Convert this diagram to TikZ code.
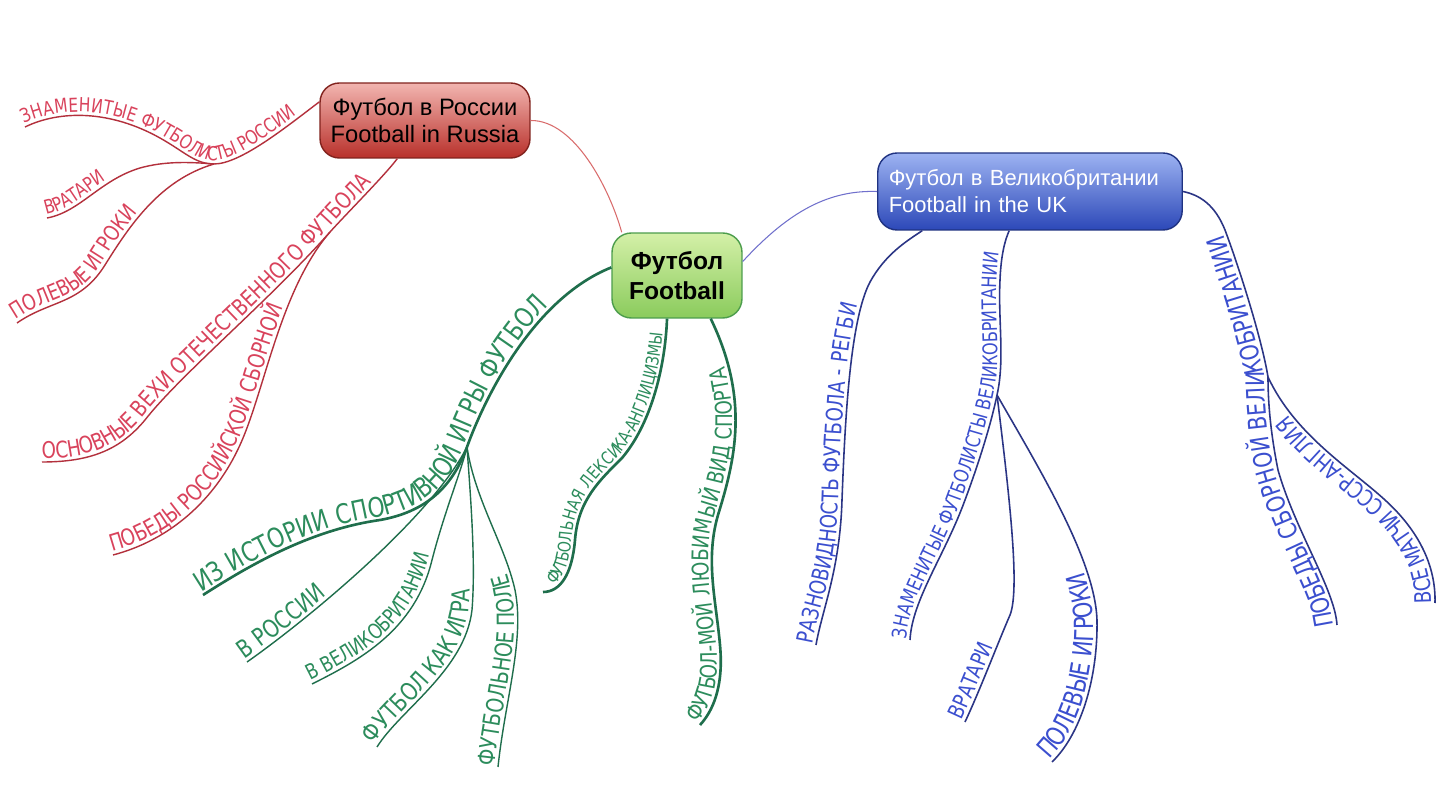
\documentclass[tikz,border=0pt]{standalone}
\usepackage{fontspec}
\setmainfont{Liberation Sans}
\newfontfamily\hand[FakeStretch=0.8]{DejaVu Sans}
\newcommand\hw[1]{\hand\fontsize{#1}{#1}\selectfont}
\usetikzlibrary{decorations.text}

\definecolor{redline}{HTML}{B3303C}
\definecolor{redtext}{HTML}{D9435C}
\definecolor{greenline}{HTML}{1F6E4C}
\definecolor{greentext}{HTML}{2C8C5C}
\definecolor{blueline}{HTML}{2B3585}
\definecolor{bluetext}{HTML}{3B4FCF}
\definecolor{redtop}{HTML}{F2B5B0}
\definecolor{redmid}{HTML}{D9544D}
\definecolor{redbot}{HTML}{B8302A}
\definecolor{greentop}{HTML}{D4F0A8}
\definecolor{greenbot}{HTML}{8ACB5C}
\definecolor{bluetop}{HTML}{9DB3F2}
\definecolor{bluemid}{HTML}{5272DC}
\definecolor{bluebot}{HTML}{2C48B8}

\begin{document}
\begin{tikzpicture}[x=0.02cm, y=-0.02cm,
    hub/.style={rounded corners=11pt, line width=0.8pt, inner sep=0pt, align=center},
    link/.style={line width=0.6pt},
    redbranch/.style={draw=redline, line width=0.8pt},
    greenbranch/.style={draw=greenline, line width=0.8pt},
    greentrunk/.style={draw=greenline, line width=1.5pt},
    bluebranch/.style={draw=blueline, line width=0.9pt},
    lbl/.style n args={3}{postaction={decorate, decoration={text along path,
        raise=2pt, text color=#1, text={|\hw{#2}|#3}}}}]

  \useasboundingbox[fill=white] (0,0) rectangle (1438,810);

  % main topics
  \node[hub, draw=green!45!black!70, top color=greentop, bottom color=greenbot,
        minimum width=2.6cm, minimum height=1.7cm, font=\fontsize{14}{17}\selectfont\bfseries]
        (football) at (677,275.5) {Футбол\\Football};
  \node[hub, draw=redbot!70!black, top color=redtop, middle color=redmid, bottom color=redbot,
        minimum width=4.2cm, minimum height=1.5cm, font=\fontsize{13.5}{15.5}\selectfont]
        (russia) at (425,120.5) {Футбол в России\\Football in Russia};
  \node[hub, draw=bluebot!70!black, top color=bluetop, middle color=bluemid, bottom color=bluebot,
        text=white, text width=5.65cm, align=left, inner xsep=0.22cm,
        minimum height=1.54cm, font=\fontsize{12.5}{15.3}\selectfont]
        (uk) at (1030,191.5) {Футбол в Великобритании\\Football in the UK};

  \draw[link, draw=red!50!white!85!black] (russia.east) .. controls (575,120) and (610,190) .. (football.142);
  \draw[link, draw=blue!45!white!80!black] (football.12) .. controls (790,210) and (830,190) .. (uk.west);

  % free ends and forks
  \coordinate (jr) at (214,164);
  \coordinate (jr2) at (330,232);
  \coordinate (r1) at (25,127);
  \coordinate (r2) at (47,218);
  \coordinate (r3) at (17,323);
  \coordinate (r4) at (42,462);
  \coordinate (r5) at (113,555);

  \coordinate (jg) at (467,447);
  \coordinate (g1) at (203,595);
  \coordinate (g2) at (247,662);
  \coordinate (g3) at (312,684);
  \coordinate (g4) at (377,747);
  \coordinate (g5) at (498,767);
  \coordinate (g6) at (543,592);
  \coordinate (g7) at (700,725);

  \coordinate (jb) at (997,395);
  \coordinate (jb2) at (1268,377);
  \coordinate (b1) at (816,645);
  \coordinate (b2) at (910,640);
  \coordinate (b3) at (965,722);
  \coordinate (b4) at (1052,762);
  \coordinate (b5) at (1337,625);
  \coordinate (b6) at (1435,603);

  % Russia
  \draw[redbranch, lbl={redtext}{11}{ЗНАМЕНИТЫЕ ФУТБОЛИСТЫ РОССИИ}] (r1)
    .. controls (60,110) and (110,110) .. (160,138) .. controls (185,152) and (195,164) .. (jr)
    .. controls (240,164) and (285,128) .. (russia.170);
  \draw[redbranch, lbl={redtext}{11}{ВРАТАРИ}] (r2)
    .. controls (80,212) and (100,180) .. (140,168) .. controls (165,161) and (190,162) .. (jr);
  \draw[redbranch, lbl={redtext}{12.5}{ПОЛЕВЫЕ ИГРОКИ}] (r3)
    .. controls (50,300) and (80,305) .. (105,265) .. controls (130,225) and (160,180) .. (jr);
  \draw[redbranch, lbl={redtext}{13}{ОСНОВНЫЕ ВЕХИ ОТЕЧЕСТВЕННОГО ФУТБОЛА}] (r4)
    .. controls (90,462) and (120,450) .. (145,420) .. controls (180,375) and (270,300) .. (jr2)
    .. controls (350,210) and (385,175) .. (russia.234);
  \draw[redbranch, lbl={redtext}{13}{ПОБЕДЫ РОССИЙСКОЙ СБОРНОЙ}] (r5)
    .. controls (170,540) and (215,500) .. (240,445) .. controls (265,390) and (280,290) .. (jr2);

  % Football
  \draw[greentrunk, lbl={greentext}{15.5}{ИЗ ИСТОРИИ СПОРТИВНОЙ ИГРЫ ФУТБОЛ}] (g1)
    .. controls (250,565) and (310,530) .. (380,520) .. controls (425,512) and (452,488) .. (jg)
    .. controls (482,405) and (530,300) .. (football.173);
  \draw[greenbranch, lbl={greentext}{14}{В РОССИИ}] (g2)
    .. controls (300,625) and (430,520) .. (jg);
  \draw[greenbranch, lbl={greentext}{12}{В ВЕЛИКОБРИТАНИИ}] (g3)
    .. controls (360,660) and (415,630) .. (432,560) .. controls (445,510) and (460,475) .. (jg);
  \draw[greenbranch, lbl={greentext}{14}{ФУТБОЛ КАК ИГРА}] (g4)
    .. controls (400,710) and (465,670) .. (472,610) .. controls (476,560) and (470,490) .. (jg);
  \draw[greenbranch, lbl={greentext}{13.5}{ФУТБОЛЬНОЕ ПОЛЕ}] (g5)
    .. controls (505,700) and (525,640) .. (515,590) .. controls (505,545) and (475,500) .. (jg);
  \draw[greentrunk, postaction={decorate, decoration={text along path, raise=2pt,
        text color=greentext, text align/left indent=8pt, text={|\hw{10}|ФУТБОЛЬНАЯ ЛЕКСИКА-АНГЛИЦИЗМЫ}}}] (g6)
    .. controls (560,592) and (572,575) .. (575,540) .. controls (578,500) and (600,480) .. (622,458)
    .. controls (650,425) and (665,370) .. (football.257);
  \draw[greentrunk, lbl={greentext}{13}{ФУТБОЛ-МОЙ ЛЮБИМЫЙ ВИД СПОРТА}] (g7)
    .. controls (712,712) and (724,688) .. (720,645) .. controls (716,600) and (705,560) .. (718,515)
    .. controls (735,460) and (750,400) .. (football.308);

  % UK
  \draw[bluebranch, lbl={bluetext}{13}{РАЗНОВИДНОСТЬ ФУТБОЛА - РЕГБИ}] (b1)
    .. controls (822,610) and (840,570) .. (842,500) .. controls (845,420) and (850,320) .. (870,282)
    .. controls (885,255) and (905,242) .. (uk.200);
  \draw[bluebranch, lbl={bluetext}{11.5}{ЗНАМЕНИТЫЕ ФУТБОЛИСТЫ ВЕЛИКОБРИТАНИИ}] (b2)
    .. controls (912,600) and (945,555) .. (965,500) .. controls (980,460) and (992,420) .. (jb)
    .. controls (1005,360) and (998,320) .. (1000,280) .. controls (1001,255) and (1005,240) .. (uk.242);
  \draw[bluebranch, lbl={bluetext}{12.5}{ВРАТАРИ}] (b3)
    .. controls (980,690) and (995,650) .. (1010,615) .. controls (1020,590) and (1010,500) .. (jb);
  \draw[bluebranch, lbl={bluetext}{15}{ПОЛЕВЫЕ ИГРОКИ}] (b4)
    .. controls (1080,735) and (1098,680) .. (1097,620) .. controls (1095,560) and (1040,470) .. (jb);
  \draw[bluebranch, lbl={bluetext}{14.5}{ПОБЕДЫ СБОРНОЙ ВЕЛИКОБРИТАНИИ}] (b5)
    .. controls (1335,590) and (1295,530) .. (1278,470) .. controls (1270,430) and (1268,400) .. (jb2)
    .. controls (1262,340) and (1240,270) .. (1225,230) .. controls (1215,205) and (1200,195) .. (uk.east);
  \draw[bluebranch, lbl={bluetext}{13}{ВСЕ МАТЧИ СССР-АНГЛИЯ}] (b6)
    .. controls (1436,565) and (1418,530) .. (1385,500) .. controls (1350,468) and (1295,435) .. (jb2);
\end{tikzpicture}
\end{document}
